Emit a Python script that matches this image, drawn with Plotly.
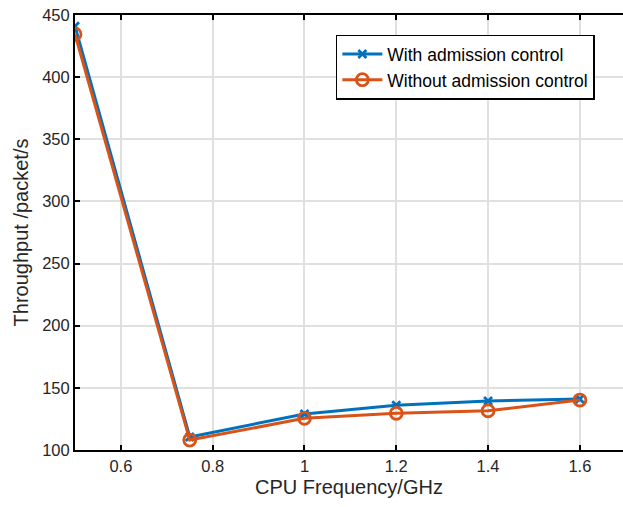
import plotly.graph_objects as go

freq = [0.5, 0.75, 1.0, 1.2, 1.4, 1.6]
with_ac = [441, 110.5, 129, 136, 139.5, 141]
without_ac = [434.5, 108, 125.5, 129.5, 131.5, 140.2]
x_ticks = [0.6, 0.8, 1, 1.2, 1.4, 1.6]
y_ticks = [100, 150, 200, 250, 300, 350, 400, 450]

BLUE = "#0072BD"
ORANGE = "#D95319"
FONT = "Liberation Sans, Arial, Helvetica, sans-serif"

fig = go.Figure()
fig.add_trace(go.Scatter(
    x=freq, y=with_ac, mode="lines+markers", name="With admission control",
    line=dict(color=BLUE, width=3),
    marker=dict(symbol="x-thin", size=8, line=dict(color=BLUE, width=2.8), color=BLUE),
))
fig.add_trace(go.Scatter(
    x=freq, y=without_ac, mode="lines+markers", name="Without admission control",
    line=dict(color=ORANGE, width=3),
    marker=dict(symbol="circle-open", size=12, line=dict(color=ORANGE, width=2.8), color=ORANGE),
))

fig.update_layout(
    width=623, height=507,
    margin=dict(l=75, r=0, t=15, b=57),
    paper_bgcolor="white", plot_bgcolor="white",
    font=dict(family=FONT, size=16, color="#262626"),
    showlegend=True,
    legend=dict(
        x=0.476, y=0.955, xanchor="left", yanchor="top",
        bgcolor="white", bordercolor="black", borderwidth=1.5,
        font=dict(family=FONT, size=17.5, color="black"),
        tracegroupgap=0, itemwidth=40,
    ),
)
fig.update_xaxes(
    range=[0.5, 1.694], tickvals=x_ticks, ticktext=[str(v) for v in x_ticks],
    showgrid=True, gridcolor="#e0e0e0", gridwidth=1.5,
    showline=True, linecolor="black", linewidth=2, mirror="ticks",
    ticks="inside", ticklen=5, tickwidth=2, tickcolor="black",
    zeroline=False,
    title=dict(text="CPU Frequency/GHz", font=dict(family=FONT, size=20, color="#262626"), standoff=6),
    tickfont=dict(family=FONT, size=16.5, color="#262626"),
)
fig.update_yaxes(
    range=[100, 450], tickvals=y_ticks,
    showgrid=True, gridcolor="#e0e0e0", gridwidth=1.5,
    showline=True, linecolor="black", linewidth=2, mirror=False,
    ticks="inside", ticklen=5, tickwidth=2, tickcolor="black",
    zeroline=False,
    title=dict(text="Throughput /packet/s", font=dict(family=FONT, size=20, color="#262626"), standoff=8),
    tickfont=dict(family=FONT, size=16.5, color="#262626"),
)

fig.write_html("out.html")
